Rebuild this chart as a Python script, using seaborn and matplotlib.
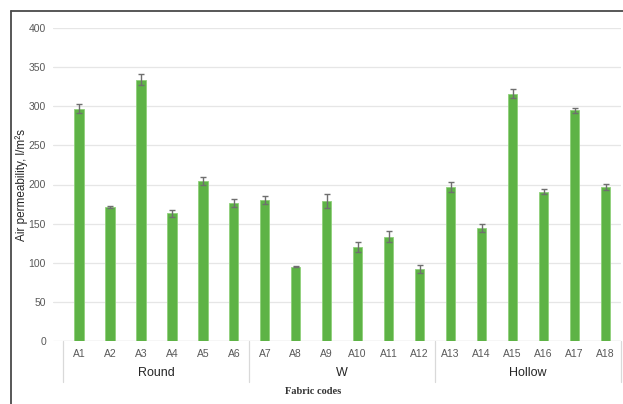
import matplotlib
matplotlib.use('Agg')

import pandas as pd
import numpy as np
import matplotlib.pyplot as plt
import seaborn as sns
from matplotlib.lines import Line2D

# --- data ---
codes = [f"A{i}" for i in range(1, 19)]
groups = ["Round", "W", "Hollow"]
group_of = ["Round"] * 6 + ["W"] * 6 + ["Hollow"] * 6
air_perm = [297, 171, 334, 163, 204, 176,
            180, 95, 179, 120, 133, 92,
            197, 144, 316, 191, 295, 197]
air_err = [6, 1, 7, 5, 5, 5,
           5, 1, 9, 6, 7, 5,
           6, 5, 6, 3, 3, 4]
y_ticks = list(range(0, 401, 50))

df = pd.DataFrame({"code": codes, "group": group_of,
                   "value": air_perm, "err": air_err})

sns.set_style("white")
plt.rcParams['font.family'] = ['Liberation Sans', 'DejaVu Sans']

fig = plt.figure(figsize=(6.23, 4.04), dpi=100)
ax = fig.add_axes([53 / 623, 1 - 341 / 404, (621 - 53) / 623, (341 - 28) / 404])

sns.barplot(data=df, x="code", y="value", color="#5EB346", width=0.3,
            errorbar=None, edgecolor="#8fd07a", linewidth=0.6, ax=ax,
            zorder=3, saturation=1)
ax.errorbar(np.arange(len(codes)), df["value"], yerr=df["err"], fmt="none",
            ecolor="#6f6f6f", elinewidth=1.0, capsize=2.3, capthick=1.0, zorder=4)

x_left = -26 / 31
ax.set_ylim(0, 400)
ax.set_xlim(x_left, 17.5)
ax.set_yticks(y_ticks)
ax.yaxis.grid(True, color="#e6e6e6", linewidth=0.9, zorder=0)
ax.set_axisbelow(True)
for s in ax.spines.values():
    s.set_visible(False)
ax.axhline(0, xmin=(-0.5 - x_left) / (17.5 - x_left), color="#d9d9d9", lw=0.9, zorder=2)
ax.tick_params(axis="both", length=0, labelsize=7.5, labelcolor="#595959")
ax.tick_params(axis="x", pad=6)
ax.tick_params(axis="y", pad=5)
ax.set_xlabel("")
ax.set_ylabel("")
fig.text(22 / 623, 1 - 185 / 404, "Air permeability, l/m²s", rotation=90,
         ha="center", va="center", fontsize=8.5, color="#262626")

# group separators and group names below the ticks
for xs in [-0.5, 5.5, 11.5, 17.5]:
    ax.plot([xs, xs], [0, -52], color="#d9d9d9", lw=0.9, clip_on=False)
for i, g in enumerate(groups):
    ax.text(6 * i + 2.5, -41, g, ha="center", va="center", fontsize=9,
            color="#262626")

fig.text(313 / 623, 1 - 392 / 404, "Fabric codes", ha="center", va="center",
         fontsize=7.5, fontweight="bold", family=["Liberation Serif", "DejaVu Serif"],
         color="#333333")

# outer frame (left and top)
fig.add_artist(Line2D([11 / 623, 11 / 623], [0, 1 - 10.5 / 404],
                      transform=fig.transFigure, color="#4a4a4a", lw=1.3))
fig.add_artist(Line2D([11 / 623, 1], [1 - 10.5 / 404, 1 - 10.5 / 404],
                      transform=fig.transFigure, color="#4a4a4a", lw=1.3))

fig.savefig("out.png", dpi=100)
plt.close(fig)
